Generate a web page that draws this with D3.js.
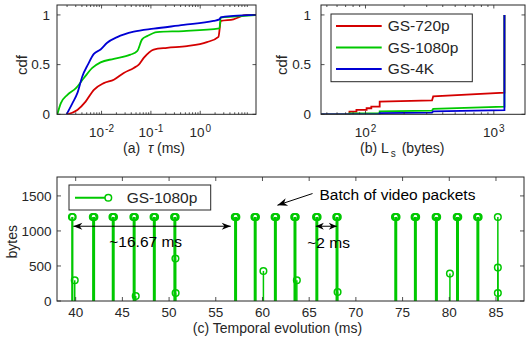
<!DOCTYPE html>
<html>
<head>
<meta charset="utf-8">
<script src="https://cdn.jsdelivr.net/npm/d3@7"></script>
<style>
body { margin: 0; background: #fff; }
text { font-family: "Liberation Sans", Arial, Helvetica, sans-serif; fill: #262626; }
</style>
</head>
<body>
<svg id="fig" width="531" height="339"></svg>
<script>
// (a) cdf of inter-packet time tau (ms)
const tau720  = [0.00203, 0.00323, 0.00475, 0.00699, 0.0111, 0.0177, 0.0282, 0.045, 0.0568, 0.0716, 0.114, 0.212, 0.538, 1.365, 2.34, 2.62, 4.71, 8.77, 13.5];
const cdf720  = [0, 0.044, 0.128, 0.246, 0.314, 0.348, 0.416, 0.467, 0.5, 0.568, 0.652, 0.669, 0.686, 0.726, 0.78, 0.94, 0.956, 1.0, 1.0];
const tau1080 = [0.00127, 0.00149, 0.00203, 0.00299, 0.00439, 0.00649, 0.00955, 0.0177, 0.0385, 0.0526, 0.0664, 0.0838, 0.133, 0.46, 2.45, 2.6, 4.7, 13.5];
const cdf1080 = [0, 0.11, 0.196, 0.26, 0.365, 0.467, 0.523, 0.558, 0.6, 0.635, 0.754, 0.787, 0.828, 0.838, 0.865, 0.973, 0.983, 1.0];
const tau4k   = [0.00196, 0.00256, 0.00323, 0.00407, 0.00528, 0.00699, 0.00955, 0.013, 0.0208, 0.045, 0.114, 0.46, 1.86, 2.45, 2.6, 4.71, 13.5];
const cdf4k   = [0, 0.11, 0.213, 0.381, 0.5, 0.608, 0.652, 0.72, 0.777, 0.831, 0.862, 0.899, 0.94, 0.955, 0.975, 0.99, 1.0];

// (b) cdf of packet size L_s (bytes)
const len720   = [45, 75, 75, 85, 85, 102, 102, 111, 111, 129, 129, 330, 337, 1210, 1210];
const lcdf720  = [0, 0, 0.027, 0.027, 0.044, 0.044, 0.061, 0.061, 0.078, 0.078, 0.128, 0.14, 0.18, 0.219, 1];
const len1080  = [45, 75, 75, 129, 129, 330, 337, 1210, 1210];
const lcdf1080 = [0, 0, 0.01, 0.012, 0.03, 0.037, 0.054, 0.078, 1];
const len4k    = [45, 129, 129, 330, 337, 1210, 1210];
const lcdf4k   = [0, 0, 0.012, 0.017, 0.03, 0.042, 1];

// (c) packets of GS-1080p over time
const pktTime = [
  39.60, 39.68, 39.90,
  41.84, 41.92, 42.00,
  43.94, 44.02, 44.10,
  46.18, 46.26, 46.34, 46.43,
  48.34, 48.42, 48.50,
  50.54, 50.62, 50.70, 50.68, 50.70,
  57.04, 57.12, 57.20,
  59.14, 59.22, 59.30, 60.10,
  61.30, 61.38, 61.46,
  63.40, 63.48, 63.56, 63.68,
  65.74, 65.82, 65.90,
  67.90, 67.98, 68.06, 68.04,
  74.19, 74.27, 74.35,
  76.29, 76.37, 76.45,
  78.54, 78.62, 78.70, 80.07,
  80.80, 80.88, 80.96,
  82.98, 83.06, 83.14,
  85.20, 85.20, 85.20
];
const pktBytes = [
  1200, 1200, 296,
  1200, 1200, 1200,
  1200, 1200, 1200,
  1200, 1200, 1200, 71,
  1200, 1200, 1200,
  1200, 1200, 1200, 606, 114,
  1200, 1200, 1200,
  1200, 1200, 1200, 429,
  1200, 1200, 1200,
  1200, 1200, 1200, 296,
  1200, 1200, 1200,
  1200, 1200, 1200, 129,
  1200, 1200, 1200,
  1200, 1200, 1200,
  1200, 1200, 1200, 391,
  1200, 1200, 1200,
  1200, 1200, 1200,
  1200, 477, 114
];

const series = ["GS-720p", "GS-1080p", "GS-4K"];
const colors = ["#d40000", "#00c800", "#0000d4"];
const axisColor = "#262626";

const svg = d3.select("#fig");

const pa = {l: 57, r: 256, t: 5, b: 114.3};
const pb = {l: 321, r: 525, t: 5, b: 114.3};
const pc = {l: 57, r: 524, t: 177, b: 301};

const xa = d3.scaleLog().domain([0.00125, 13.5]).range([pa.l, pa.r]);
const ya = d3.scaleLinear().domain([0, 1.1]).range([pa.b, pa.t]);
const xb = d3.scaleLog().domain([45, 1750]).range([pb.l, pb.r]);
const yb = d3.scaleLinear().domain([0, 1.1]).range([pb.b, pb.t]);
const xc = d3.scaleLinear().domain([38, 88]).range([pc.l, pc.r]);
const yc = d3.scaleLinear().domain([0, 1770]).range([pc.b, pc.t]);

function clip(id, p) {
  svg.append("clipPath").attr("id", id).append("rect")
    .attr("x", p.l).attr("y", p.t).attr("width", p.r - p.l).attr("height", p.b - p.t);
}
clip("ca", pa); clip("cb", pb); clip("cc", pc);

// ticks, inward on all four sides
function ticksX(p, x, vals, len) {
  vals.forEach(v => {
    svg.append("line").attr("x1", x(v)).attr("x2", x(v)).attr("y1", p.b).attr("y2", p.b - len)
      .attr("stroke", axisColor).attr("stroke-width", 0.8);
    svg.append("line").attr("x1", x(v)).attr("x2", x(v)).attr("y1", p.t).attr("y2", p.t + len)
      .attr("stroke", axisColor).attr("stroke-width", 0.8);
  });
}
function ticksY(p, y, vals, len) {
  vals.forEach(v => {
    svg.append("line").attr("y1", y(v)).attr("y2", y(v)).attr("x1", p.l).attr("x2", p.l + len)
      .attr("stroke", axisColor).attr("stroke-width", 0.8);
    svg.append("line").attr("y1", y(v)).attr("y2", y(v)).attr("x1", p.r).attr("x2", p.r - len)
      .attr("stroke", axisColor).attr("stroke-width", 0.8);
  });
}
function box(p) {
  svg.append("rect").attr("x", p.l).attr("y", p.t).attr("width", p.r - p.l).attr("height", p.b - p.t)
    .attr("fill", "none").attr("stroke", axisColor).attr("stroke-width", 1);
}
function logLabels(x, vals, base) {
  vals.forEach(v => {
    const t = svg.append("text").attr("x", x(v)).attr("y", base)
      .attr("text-anchor", "middle").attr("font-size", 13.5);
    t.append("tspan").text("10");
    t.append("tspan").attr("dy", -5).attr("dx", 1).attr("font-size", 10).text(Math.round(Math.log10(v)));
  });
}
function yLabels(y, vals, xEnd, fmt) {
  vals.forEach(v => {
    svg.append("text").attr("x", xEnd).attr("y", y(v)).attr("dy", "0.35em")
      .attr("text-anchor", "end").attr("font-size", 13.5).text(fmt(v));
  });
}
const cdfFmt = v => v === 0.5 ? "0.5" : String(v);

// ---------- (a) ----------
const aTaus = [tau720, tau1080, tau4k], aCdfs = [cdf720, cdf1080, cdf4k];
const lineA = d3.line().x(d => xa(d[0])).y(d => ya(d[1])).curve(d3.curveMonotoneX);
aTaus.forEach((ts, i) => {
  svg.append("path").datum(ts.map((t, j) => [t, aCdfs[i][j]]))
    .attr("d", lineA).attr("fill", "none").attr("stroke", colors[i]).attr("stroke-width", 1.8)
    .attr("clip-path", "url(#ca)");
});
const aAll = xa.ticks();
ticksX(pa, xa, aAll.filter(v => Math.abs(Math.log10(v) % 1) > 0.01), 2);
ticksX(pa, xa, [0.01, 0.1, 1], 3.5);
ticksY(pa, ya, [0, 0.5, 1], 3.5);
box(pa);
logLabels(xa, [0.01, 0.1, 1], 137);
yLabels(ya, [0, 0.5, 1], 50, cdfFmt);
svg.append("text").attr("transform", "translate(22,65) rotate(-90)").attr("text-anchor", "middle")
  .attr("dy", "0.35em").attr("font-size", 15).text("cdf");
{
  const t = svg.append("text").attr("x", 154).attr("y", 153).attr("text-anchor", "middle").attr("font-size", 14);
  t.append("tspan").text("(a)\u00a0\u00a0");
  t.append("tspan").attr("font-style", "italic").text("τ");
  t.append("tspan").text("\u00a0(ms)");
}

// ---------- (b) ----------
const bLens = [len720, len1080, len4k], bCdfs = [lcdf720, lcdf1080, lcdf4k];
const lineB = d3.line().x(d => xb(d[0])).y(d => yb(d[1]));
bLens.forEach((ls, i) => {
  svg.append("path").datum(ls.map((l, j) => [l, bCdfs[i][j]]))
    .attr("d", lineB).attr("fill", "none").attr("stroke", colors[i]).attr("stroke-width", 1.8)
    .attr("clip-path", "url(#cb)");
});
const bAll = xb.ticks();
ticksX(pb, xb, bAll.filter(v => Math.abs(Math.log10(v) % 1) > 0.01), 2);
ticksX(pb, xb, [100, 1000], 3.5);
ticksY(pb, yb, [0, 0.5, 1], 3.5);
box(pb);
logLabels(xb, [100, 1000], 137);
yLabels(yb, [0, 0.5, 1], 311, cdfFmt);
svg.append("text").attr("transform", "translate(282,65) rotate(-90)").attr("text-anchor", "middle")
  .attr("dy", "0.35em").attr("font-size", 15).text("cdf");
{
  const t = svg.append("text").attr("x", 360).attr("y", 153).attr("font-size", 14);
  t.append("tspan").text("(b) L");
  t.append("tspan").attr("dx", 2).attr("dy", 4).attr("font-size", 10).text("s");
  t.append("tspan").attr("dx", 2).attr("dy", -4).text("\u00a0(bytes)");
}
// legend (b)
const lgB = svg.append("g");
lgB.append("rect").attr("x", 331).attr("y", 14).attr("width", 141.3).attr("height", 67.7)
  .attr("fill", "#fff").attr("stroke", axisColor).attr("stroke-width", 1);
series.forEach((s, i) => {
  const yy = 26 + i * 21.5;
  lgB.append("line").attr("x1", 336).attr("x2", 381.7).attr("y1", yy).attr("y2", yy)
    .attr("stroke", colors[i]).attr("stroke-width", 2);
  lgB.append("text").attr("x", 387.7).attr("y", yy).attr("dy", "0.35em").attr("font-size", 15.5).text(s);
});

// ---------- (c) ----------
const pkts = pktTime.map((t, i) => [t, pktBytes[i]]);
const gc = svg.append("g").attr("clip-path", "url(#cc)");
gc.selectAll(".stem").data(pkts).enter().append("line")
  .attr("x1", d => xc(d[0])).attr("x2", d => xc(d[0]))
  .attr("y1", yc(0)).attr("y2", d => yc(d[1]))
  .attr("stroke", colors[1]).attr("stroke-width", 1.5);
gc.selectAll(".mk").data(pkts).enter().append("circle")
  .attr("cx", d => xc(d[0])).attr("cy", d => yc(d[1])).attr("r", 3.3)
  .attr("fill", "none").attr("stroke", colors[1]).attr("stroke-width", 1.5);

const cX = d3.range(40, 86, 5), cY = [0, 500, 1000, 1500];
ticksX(pc, xc, cX, 4);
ticksY(pc, yc, cY, 4);
box(pc);
cX.forEach(v => {
  svg.append("text").attr("x", xc(v)).attr("y", 317).attr("text-anchor", "middle")
    .attr("font-size", 13.5).text(v);
});
yLabels(yc, cY, 51.5, String);
svg.append("text").attr("transform", "translate(12,241.7) rotate(-90)").attr("text-anchor", "middle")
  .attr("dy", "0.35em").attr("font-size", 14).text("bytes");
svg.append("text").attr("x", (pc.l + pc.r) / 2 - 13).attr("y", 333).attr("text-anchor", "middle")
  .attr("font-size", 14).text("(c) Temporal evolution (ms)");

// legend (c)
const lgC = svg.append("g");
lgC.append("rect").attr("x", 69).attr("y", 185).attr("width", 141.7).attr("height", 25)
  .attr("fill", "#fff").attr("stroke", axisColor).attr("stroke-width", 1);
lgC.append("line").attr("x1", 75).attr("x2", 108.3).attr("y1", 197.7).attr("y2", 197.7)
  .attr("stroke", colors[1]).attr("stroke-width", 2);
lgC.append("circle").attr("cx", 108.3).attr("cy", 197.7).attr("r", 3.3)
  .attr("fill", "#fff").attr("stroke", colors[1]).attr("stroke-width", 1.5);
lgC.append("text").attr("x", 126.7).attr("y", 197.7).attr("dy", "0.35em").attr("font-size", 15.5).text(series[1]);

// annotations
function head(x, y, ang, len, hw) {
  // arrowhead with notched back, tip at (x,y), pointing along ang
  const c = Math.cos(ang), s = Math.sin(ang);
  const pts = [[0, 0], [-len, hw], [-len * 0.7, 0], [-len, -hw]]
    .map(p => [x + p[0] * c - p[1] * s, y + p[0] * s + p[1] * c]);
  svg.append("path").attr("d", "M" + pts.join("L") + "Z").attr("fill", "#000");
}
function dblArrow(t0, t1, b, len, hw) {
  const x0 = xc(t0), x1 = xc(t1), y = yc(b);
  svg.append("line").attr("x1", x0).attr("x2", x1).attr("y1", y).attr("y2", y)
    .attr("stroke", "#000").attr("stroke-width", 1);
  head(x0, y, Math.PI, len, hw);
  head(x1, y, 0, len, hw);
}
dblArrow(39.75, 56.6, 1067, 9, 3.5);
dblArrow(65.71, 67.96, 1067, 8, 3.5);
svg.append("text").attr("x", xc(43.6)).attr("y", yc(845)).attr("dy", "0.35em")
  .attr("font-size", 15.5).style("fill", "#000").text("~16.67 ms");
svg.append("text").attr("x", xc(64.8)).attr("y", yc(829)).attr("dy", "0.35em")
  .attr("font-size", 15.5).style("fill", "#000").text("~2 ms");
{
  const x0 = xc(65.36), y0 = yc(1534), x1 = xc(61.6), y1 = yc(1367);
  svg.append("line").attr("x1", x0).attr("y1", y0).attr("x2", x1).attr("y2", y1)
    .attr("stroke", "#000").attr("stroke-width", 1);
  head(x1, y1, Math.atan2(y1 - y0, x1 - x0), 10, 4);
  svg.append("text").attr("x", xc(66.1)).attr("y", yc(1524)).attr("dy", "0.35em")
    .attr("font-size", 15.5).style("fill", "#000").text("Batch of video packets");
}
</script>
</body>
</html>
